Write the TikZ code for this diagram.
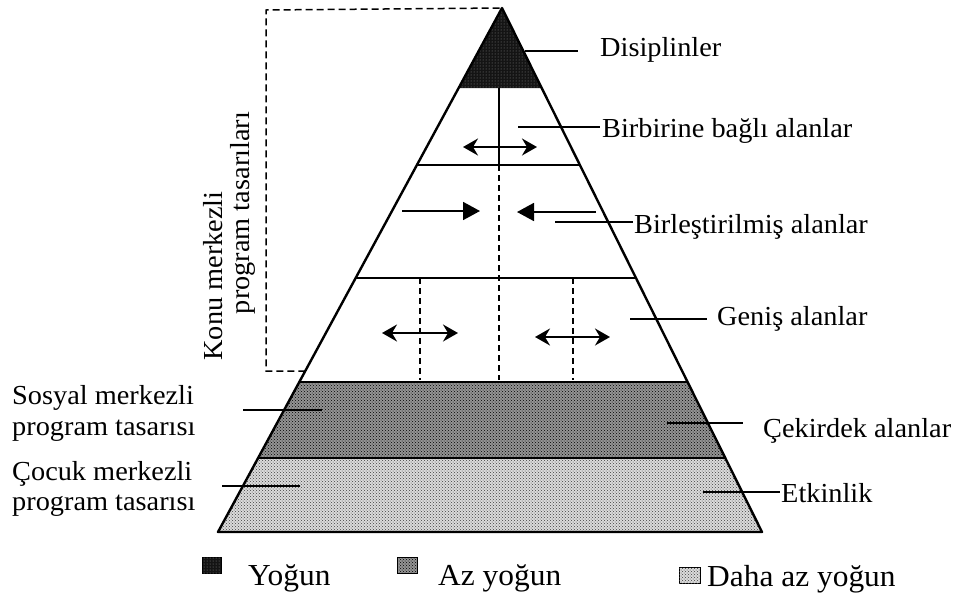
\documentclass[tikz,border=0pt]{standalone}
\usepackage{fontspec}
\setmainfont{Liberation Serif}[FakeStretch=1.03]
\usetikzlibrary{arrows.meta,patterns,calc}
\begin{document}
\begin{tikzpicture}[x=1pt,y=-1pt,
  lab/.style={inner sep=0pt, font=\fontsize{27.5}{32}\selectfont},
  leg/.style={inner sep=0pt, font=\fontsize{30.5}{36}\selectfont},
  lead/.style={line width=1.4pt},
  sep/.style={line width=1.4pt},
  dsh/.style={line width=1.4pt, dash pattern=on 6pt off 4pt},
  dbl/.style={line width=1.8pt, {Stealth[length=15pt,width=17pt,inset=5pt]}-{Stealth[length=15pt,width=17pt,inset=5pt]}},
  tri/.style={line width=1.8pt, -{Triangle[length=17pt,width=18pt]}},
  dense/.style={fill=black!92, postaction={pattern=dots, pattern color=black!45}},
  medium/.style={fill=black!42, postaction={pattern=crosshatch dots, pattern color=black}},
  light/.style={fill=black!14, postaction={pattern=crosshatch dots, pattern color=black!75}},
]
\useasboundingbox (0,0) rectangle (959,606);

% key points of the pyramid
\coordinate (apex) at (502,8);
\coordinate (bl) at (218,532);
\coordinate (br) at (762,532);
\coordinate (l88) at (458.6,88);   \coordinate (r88) at (541.7,88);
\coordinate (l165) at (416.9,165); \coordinate (r165) at (579.9,165);
\coordinate (l278) at (355.7,278); \coordinate (r278) at (636.0,278);
\coordinate (l371) at (305.3,371);
\coordinate (l382) at (299.3,382); \coordinate (r382) at (687.6,382);
\coordinate (l458) at (258.1,458); \coordinate (r458) at (725.3,458);

% shaded bands
\path[dense] (apex) -- (r88) -- (l88) -- cycle;
\path[medium] (l382) -- (r382) -- (r458) -- (l458) -- cycle;
\path[light] (l458) -- (r458) -- (br) -- (bl) -- cycle;

% band boundaries
\draw[sep] (l165) -- (r165);
\draw[sep] (l278) -- (r278);
\draw[line width=1.8pt] (l382) -- (r382);
\draw[line width=1.8pt] (l458) -- (r458);

% verticals
\coordinate (c88) at (499,88);
\coordinate (c165) at (499,165);
\coordinate (c380) at (499,380);
\draw[sep] (c88) -- (c165);
\draw[dsh] (c165) -- (c380);
\coordinate (v1t) at (420,278); \coordinate (v1b) at (420,380);
\coordinate (v2t) at (573,278); \coordinate (v2b) at (573,380);
\draw[dsh] (v1t) -- (v1b);
\draw[dsh] (v2t) -- (v2b);

% outline
\draw[line width=2.4pt, line join=round] (apex) -- (bl) -- (br) -- cycle;

% dashed frame
\coordinate (fbl) at (266,371);
\coordinate (ftl) at (266,10);
\draw[line width=1.5pt, dash pattern=on 7pt off 4pt] (l371) -- (fbl) -- (ftl) -- (apex);

% arrows
\coordinate (a1) at (463,147); \coordinate (a2) at (537,147);
\draw[dbl] (a1) -- (a2);
\coordinate (b1) at (402,211); \coordinate (b2) at (480,211);
\draw[tri] (b1) -- (b2);
\coordinate (b3) at (596,212); \coordinate (b4) at (517,212);
\draw[tri] (b3) -- (b4);
\coordinate (g1) at (382,333); \coordinate (g2) at (458,333);
\draw[dbl] (g1) -- (g2);
\coordinate (g3) at (535,337); \coordinate (g4) at (610,337);
\draw[dbl] (g3) -- (g4);

% right labels
\node[lab, anchor=base west] (dis) at (600,56) {Disiplinler};
\coordinate (disA) at (525,51);
\draw[lead, shorten >=22pt] (disA) -- (disA -| dis.west);

\node[lab, anchor=base west] (bir) at (602,137) {Birbirine bağlı alanlar};
\coordinate (birA) at (518,127);
\draw[lead, shorten >=2pt] (birA) -- (birA -| bir.west);

\node[lab, anchor=base west] (ble) at (634,233) {Birleştirilmiş alanlar};
\coordinate (bleA) at (555,222);
\draw[lead, shorten >=1pt] (bleA) -- (bleA -| ble.west);

\node[lab, anchor=base west] (gen) at (717,325) {Geniş alanlar};
\coordinate (genA) at (630,319);
\draw[lead, shorten >=10pt] (genA) -- (genA -| gen.west);

\node[lab, anchor=base west] (cek) at (763,437) {Çekirdek alanlar};
\coordinate (cekA) at (667,423);
\draw[lead, shorten >=20pt] (cekA) -- (cekA -| cek.west);

\node[lab, anchor=base west] (etk) at (781,502) {Etkinlik};
\coordinate (etkA) at (703,492);
\draw[lead, shorten >=1pt] (etkA) -- (etkA -| etk.west);

% left labels
\node[lab, anchor=base west] (sos1) at (12,404) {Sosyal merkezli};
\node[lab, anchor=base west] (sos2) at (12,435) {program tasarısı};
\coordinate (sosA) at (243,410); \coordinate (sosB) at (322,410);
\draw[lead] (sosA) -- (sosB);

\node[lab, anchor=base west] (coc1) at (12,480) {Çocuk merkezli};
\node[lab, anchor=base west] (coc2) at (12,510) {program tasarısı};
\coordinate (cocA) at (222,486); \coordinate (cocB) at (300,486);
\draw[lead] (cocA) -- (cocB);

% rotated label
\node[lab, anchor=base, rotate=90] (konu1) at (222,276) {Konu merkezli};
\node[lab, anchor=base, rotate=90] (konu2) at (249,213) {program tasarıları};

% legend
\path[dense, draw=black, line width=0.8pt] (202,557) rectangle (221,573);
\node[leg, anchor=base west] (lg1) at (248,585) {Yoğun};
\path[medium, draw=black, line width=0.8pt] (397,557) rectangle (417,573);
\node[leg, anchor=base west] (lg2) at (438,585) {Az yoğun};
\path[light, draw=black, line width=0.8pt] (679,567) rectangle (700,583);
\node[leg, anchor=base west] (lg3) at (707,586) {Daha az yoğun};
\end{tikzpicture}
\end{document}
